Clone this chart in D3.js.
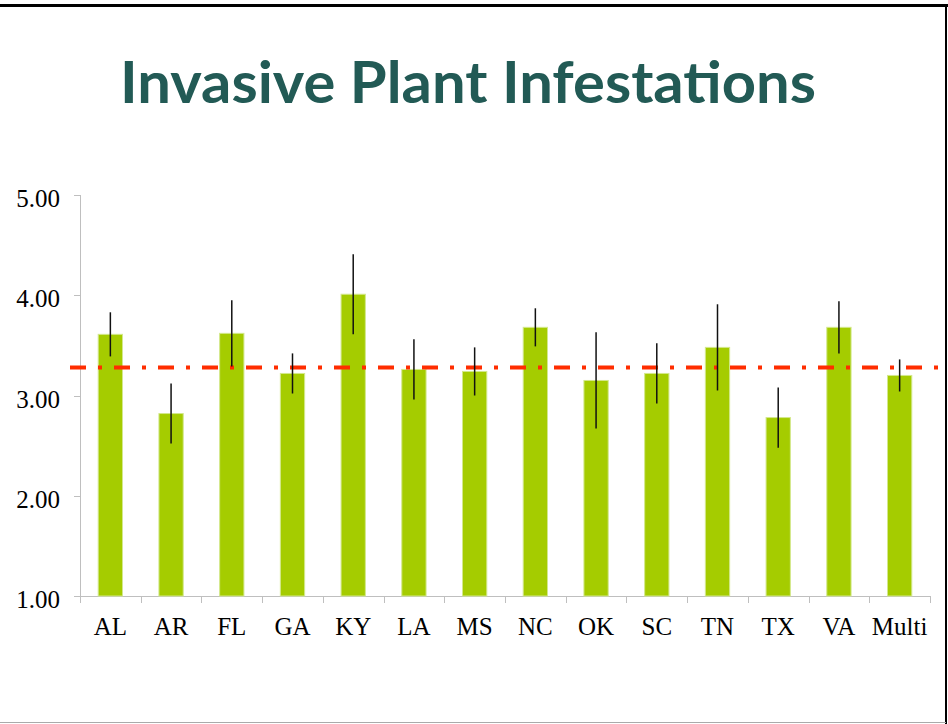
<!DOCTYPE html>
<html>
<head>
<meta charset="utf-8">
<script src="https://cdn.jsdelivr.net/npm/d3@7"></script>
<style>
  html, body { margin: 0; padding: 0; background: #fff; }
  svg { display: block; }
</style>
</head>
<body>
<svg id="chart" width="948" height="724"></svg>
<script>
// datos
let states = ["AL", "AR", "FL", "GA", "KY", "LA", "MS", "NC", "OK", "SC", "TN", "TX", "VA", "Multi"];
let means = [3.61, 2.82, 3.62, 3.22, 4.01, 3.26, 3.24, 3.68, 3.15, 3.22, 3.48, 2.78, 3.68, 3.20];
let errors = [0.22, 0.30, 0.33, 0.20, 0.40, 0.30, 0.24, 0.19, 0.48, 0.30, 0.43, 0.30, 0.26, 0.16];
let yTicks = [1, 2, 3, 4, 5];
let average = 3.28;

let svg = d3.select('#chart');

// marco de la diapositiva
svg.append('line').attr('x1', 0).attr('x2', 948).attr('y1', 5.5).attr('y2', 5.5)
    .attr('stroke', '#000').attr('stroke-width', 3);
svg.append('line').attr('x1', 946).attr('x2', 946).attr('y1', 4).attr('y2', 724)
    .attr('stroke', '#000').attr('stroke-width', 2);
svg.append('line').attr('x1', 0).attr('x2', 946).attr('y1', 722.5).attr('y2', 722.5)
    .attr('stroke', '#aaa').attr('stroke-width', 1);

// titulo
svg.append('text')
    .attr('x', 468).attr('y', 103)
    .attr('text-anchor', 'middle')
    .attr('font-family', 'Lato, "Open Sans", sans-serif')
    .attr('font-weight', 'bold')
    .attr('font-size', 57)
    .attr('fill', '#225a55')
    .attr('textLength', 696)
    .attr('lengthAdjust', 'spacingAndGlyphs')
    .text('Invasive Plant Infestations');

let x = d3.scaleBand().domain(states).range([80, 930]).padding(0);
let y = d3.scaleLinear().domain([1, 5]).range([596, 195]);
let bw = x.bandwidth();

// ejes
let axisColor = '#bfbfbf';
svg.append('line').attr('x1', 80.5).attr('x2', 80.5).attr('y1', 195).attr('y2', 596)
    .attr('stroke', axisColor);
svg.append('line').attr('x1', 80).attr('x2', 930).attr('y1', 596.5).attr('y2', 596.5)
    .attr('stroke', axisColor);

svg.selectAll('.ytick')
    .data(yTicks)
    .enter()
    .append('line')
    .attr('x1', 74).attr('x2', 80)
    .attr('y1', d => Math.round(y(d)) + 0.5)
    .attr('y2', d => Math.round(y(d)) + 0.5)
    .attr('stroke', axisColor);

svg.selectAll('.ylabel')
    .data(yTicks)
    .enter()
    .append('text')
    .attr('x', 60)
    .attr('y', d => y(d) + 12)
    .attr('text-anchor', 'end')
    .attr('font-family', '"Liberation Serif", serif')
    .attr('font-size', 25)
    .attr('fill', '#000')
    .text(d => d3.format('.2f')(d));

let bounds = states.map(s => x(s)).concat([930]);
svg.selectAll('.xtick')
    .data(bounds)
    .enter()
    .append('line')
    .attr('x1', d => Math.round(d) + 0.5).attr('x2', d => Math.round(d) + 0.5)
    .attr('y1', 596).attr('y2', 603)
    .attr('stroke', axisColor);

svg.selectAll('.xlabel')
    .data(states)
    .enter()
    .append('text')
    .attr('x', d => x(d) + bw / 2)
    .attr('y', 635)
    .attr('text-anchor', 'middle')
    .attr('font-family', '"Liberation Serif", serif')
    .attr('font-size', 25)
    .attr('fill', '#000')
    .text(d => d);

// barras
svg.selectAll('.bar')
    .data(states)
    .enter()
    .append('rect')
    .attr('x', d => x(d) + bw * 0.3)
    .attr('width', bw * 0.4)
    .attr('y', (d, i) => y(means[i]))
    .attr('height', (d, i) => y(1) - y(means[i]))
    .attr('fill', '#a5cc00')
    .attr('stroke', '#d3e88c')
    .attr('stroke-width', 1);

// linea promedio
svg.append('line')
    .attr('x1', 70).attr('x2', 940)
    .attr('y1', y(average)).attr('y2', y(average))
    .attr('stroke', '#ff2d00')
    .attr('stroke-width', 4)
    .attr('stroke-dasharray', '16,12,4,12');

// barras de error
svg.selectAll('.err')
    .data(states)
    .enter()
    .append('line')
    .attr('x1', d => x(d) + bw / 2).attr('x2', d => x(d) + bw / 2)
    .attr('y1', (d, i) => y(means[i] + errors[i]))
    .attr('y2', (d, i) => y(means[i] - errors[i]))
    .attr('stroke', '#111')
    .attr('stroke-width', 1.5);
</script>
</body>
</html>
